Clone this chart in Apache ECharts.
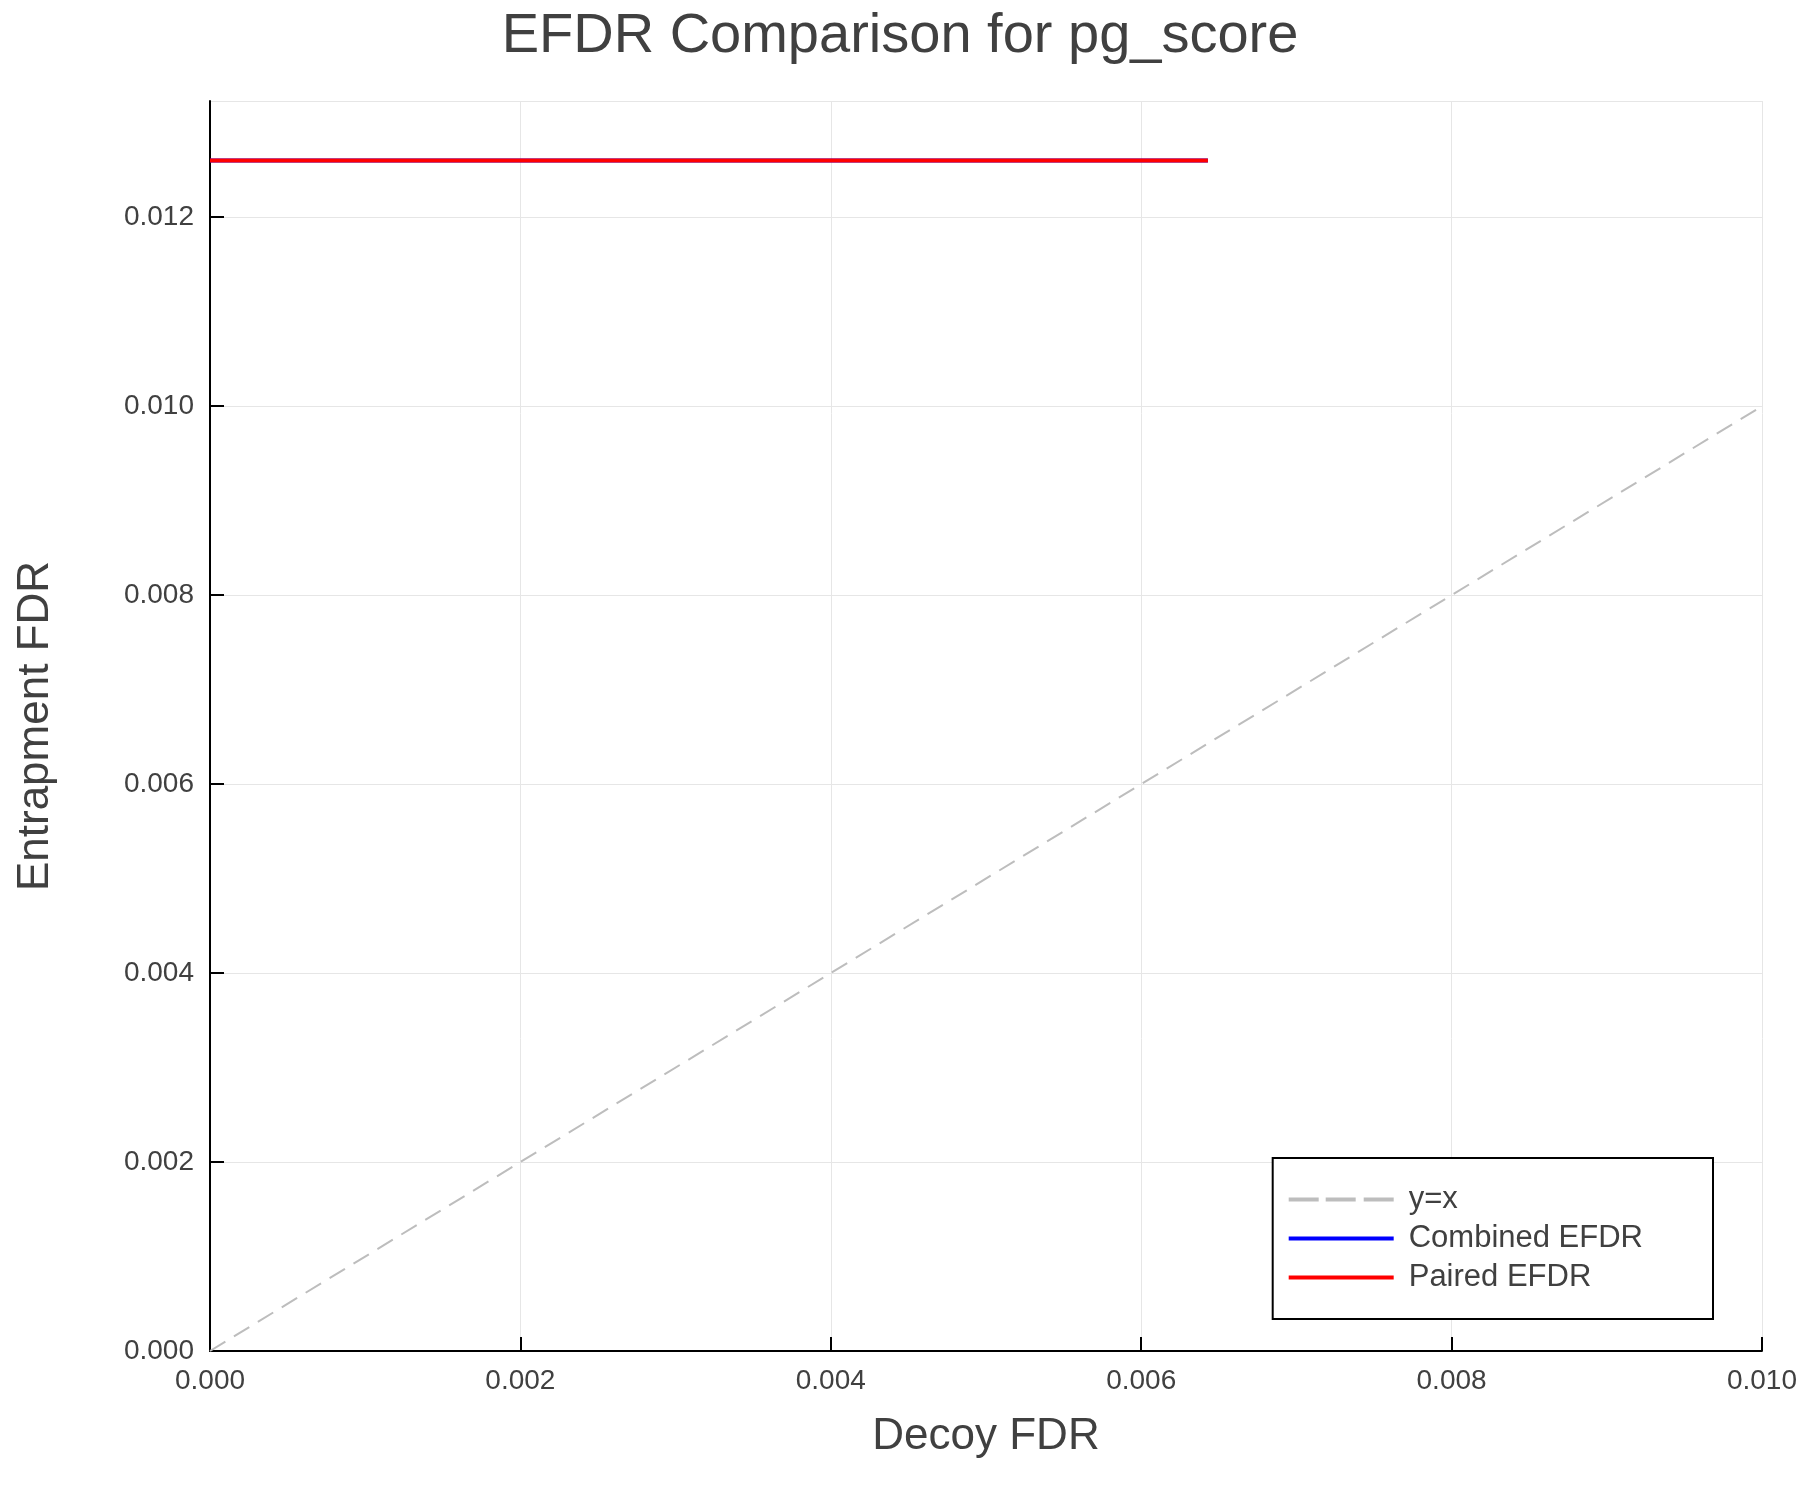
<!DOCTYPE html>
<html><head><meta charset="utf-8">
<script src="https://cdn.jsdelivr.net/npm/echarts@6/dist/echarts.min.js"></script>
<style>html,body{margin:0;padding:0;background:#fff}#c{width:1800px;height:1500px}</style>
</head><body><div id="c"></div>
<script>
const diagX = [0, 0.01];
const diagY = [0, 0.01];
const combinedX = [0, 0.00643];
const combinedY = [0.0126, 0.0126];
const pairedX = [0, 0.00643];
const pairedY = [0.0126, 0.0126];
const xTicks = ['0.000','0.002','0.004','0.006','0.008','0.010'];
const yTicks = ['0.000','0.002','0.004','0.006','0.008','0.010','0.012'];
const zip = (a,b)=>a.map((v,i)=>[v,b[i]]);
const F = 'Liberation Sans, Arial, sans-serif';
const chart = echarts.init(document.getElementById('c'));
chart.setOption({
  animation:false,
  title:{text:'EFDR Comparison for pg_score',left:'center',top:4,textStyle:{fontFamily:F,fontSize:56,fontWeight:'normal',color:'#404040'}},
  grid:{left:210,right:35,top:101,bottom:149},
  legend:{right:87,top:1158,orient:'vertical',itemWidth:105,itemHeight:4,itemGap:8,padding:[26,70,26,16],
    borderColor:'#000',borderWidth:2,backgroundColor:'#fff',
    textStyle:{fontFamily:F,fontSize:31,color:'#404040',padding:[0,0,0,10]},
    data:[{name:'y=x',icon:'path://M0,0H30V4H0ZM37,0H67V4H37ZM75,0H105V4H75Z'},{name:'Combined EFDR',icon:'rect'},{name:'Paired EFDR',icon:'rect'}]},
  xAxis:{type:'value',min:0,max:0.01,interval:0.002,name:'Decoy FDR',nameLocation:'middle',nameGap:64,
    nameTextStyle:{fontFamily:F,fontSize:44,color:'#404040'},
    axisLine:{lineStyle:{color:'#000',width:2}},axisTick:{inside:true,length:14,lineStyle:{color:'#000',width:2}},
    axisLabel:{fontFamily:F,fontSize:28,color:'#404040',margin:16,formatter:(v)=>xTicks[Math.round(v/0.002)]},
    splitLine:{show:true,lineStyle:{color:'#e6e6e6',width:1}}},
  yAxis:{type:'value',min:0,max:0.01323,interval:0.002,name:'Entrapment FDR',nameLocation:'middle',nameGap:152,
    nameTextStyle:{fontFamily:F,fontSize:44,color:'#404040'},
    axisLine:{show:true,lineStyle:{color:'#000',width:2}},axisTick:{show:true,inside:true,length:14,lineStyle:{color:'#000',width:2}},
    axisLabel:{fontFamily:F,fontSize:28,color:'#404040',margin:16,showMaxLabel:false,formatter:(v)=>yTicks[Math.round(v/0.002)]||''},
    splitLine:{show:true,lineStyle:{color:'#e6e6e6',width:1}}},
  series:[
    {name:'y=x',type:'line',data:zip(diagX,diagY),symbol:'none',lineStyle:{color:'#bdbdbd',width:2,type:[18,10]},itemStyle:{color:'#bdbdbd'}},
    {name:'Combined EFDR',type:'line',data:zip(combinedX,combinedY),symbol:'none',lineStyle:{color:'#0000ff',width:4},itemStyle:{color:'#0000ff'}},
    {name:'Paired EFDR',type:'line',data:zip(pairedX,pairedY),symbol:'none',lineStyle:{color:'#ff0000',width:4},itemStyle:{color:'#ff0000'}}
  ]
});
</script></body></html>
